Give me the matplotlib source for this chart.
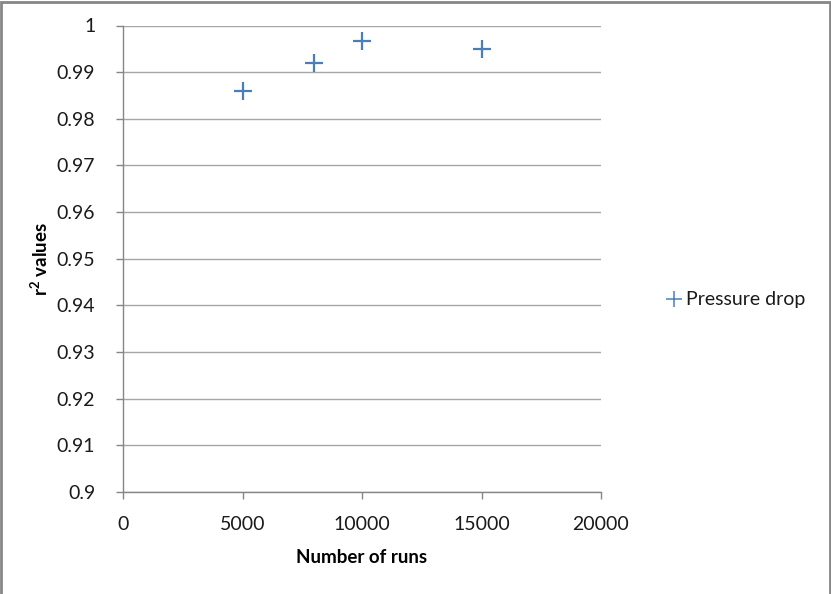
import matplotlib.pyplot as plt
from matplotlib.patches import Rectangle

plt.rcParams['font.family'] = ['Lato', 'DejaVu Sans']
plt.rcParams['mathtext.fontset'] = 'custom'
plt.rcParams['mathtext.rm'] = 'Lato'
plt.rcParams['mathtext.bf'] = 'Lato:bold'

runs = [5000, 8000, 10000, 15000]
r2 = [0.9859, 0.9920, 0.9967, 0.9949]
series_name = 'Pressure drop'
x_ticks = [0, 5000, 10000, 15000, 20000]
y_ticks = [0.9, 0.91, 0.92, 0.93, 0.94, 0.95, 0.96, 0.97, 0.98, 0.99, 1.0]
y_tick_labels = ['0.9', '0.91', '0.92', '0.93', '0.94', '0.95', '0.96', '0.97', '0.98', '0.99', '1']

W, H = 831, 594
fig = plt.figure(figsize=(W / 100, H / 100), dpi=100)
ax = fig.add_axes([123 / W, 1 - 492 / H, (601 - 123) / W, (492 - 25.5) / H])

axis_grey = '#868686'
ax.set_xlim(0, 20000)
ax.set_ylim(0.9, 1.0)
ax.set_xticks(x_ticks)
ax.set_xticklabels([str(t) for t in x_ticks])
ax.set_yticks(y_ticks)
ax.set_yticklabels(y_tick_labels)
ax.grid(axis='y', color='#a6a6a6', linewidth=1.0)
ax.set_axisbelow(True)
for side in ('top', 'right'):
    ax.spines[side].set_visible(False)
for side in ('left', 'bottom'):
    ax.spines[side].set_color(axis_grey)
    ax.spines[side].set_linewidth(1.0)
ax.tick_params(axis='both', direction='out', length=5, width=1.0, color=axis_grey,
               labelsize=14, labelcolor='#1a1a1a')
ax.tick_params(axis='y', pad=15)
ax.tick_params(axis='x', pad=12)

pts, = ax.plot(runs, r2, linestyle='none', marker='+', markersize=13,
               markeredgewidth=1.6, color='#4a7ebb', label=series_name, clip_on=False)

ax.set_xlabel('Number of runs', fontsize=13.5, fontweight='bold', labelpad=12)
ax.set_ylabel(r'$\mathbf{r^2}$ values', fontsize=13.5, fontweight='bold', labelpad=4)

leg = fig.legend(handles=[pts], loc='center left', bbox_to_anchor=(648 / W, 1 - 300 / H),
                 frameon=False, fontsize=14, handlelength=0.9, handletextpad=0.15)
leg.legend_handles[0].set_markersize(11)
leg.legend_handles[0].set_markeredgewidth(1.1)
for t in leg.get_texts():
    t.set_color('#1a1a1a')

# chart area outline
fig.patches.append(Rectangle((1 / W, -0.05), (W - 2.5) / W, 1.05 - 1.5 / H,
                             transform=fig.transFigure, fill=False,
                             edgecolor='#868686', linewidth=2.0))

fig.savefig('out.png', dpi=100)
